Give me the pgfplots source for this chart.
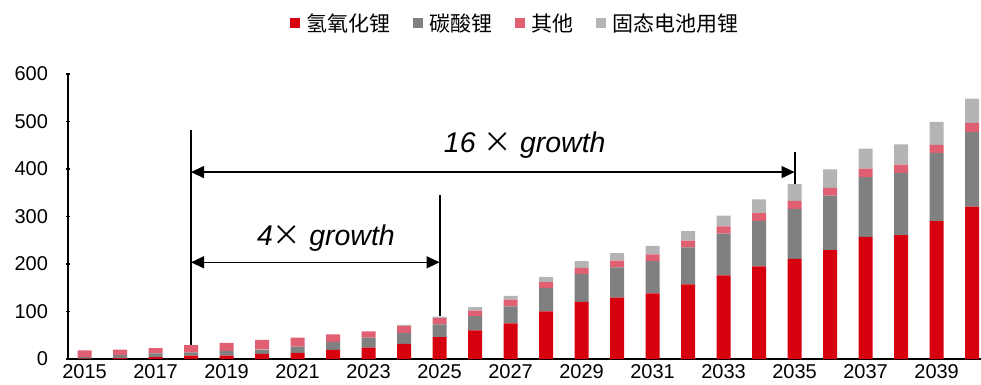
\documentclass[border=0pt]{standalone}
\usepackage{fontspec}
\setmainfont{Liberation Sans}
\newfontfamily\cjk{Noto Sans CJK SC}
\usepackage{pgfplots}
\usepackage{pgfplotstable}
\pgfplotsset{compat=1.18}
\usetikzlibrary{arrows.meta}
\definecolor{cRed}{RGB}{215,0,15}
\definecolor{cGray}{RGB}{128,128,128}
\definecolor{cPink}{RGB}{225,95,115}
\definecolor{cLight}{RGB}{180,180,180}

\pgfplotstableread{
year red gray pink solid
2015 1 3 14 0
2016 2 6 12 0
2017 4 8 11 0
2018 7 7 15 0
2019 7 10 17 0
2020 11 9 20 0
2021 13 13 19 0
2022 19 17 16 0
2023 24 21 13 0
2024 32 23 14 3
2025 46 27 13 3
2026 60 30 12 7
2027 75 36 14 8
2028 100 49 13 11
2029 120 59 13 14
2030 129 64 14 16
2031 138 68 14 18
2032 157 78 14 20
2033 176 88 15 23
2034 195 96 16 29
2035 211 105 17 35
2036 229 115 16 39
2037 257 126 18 42
2038 261 131 17 43
2039 290 144 17 48
2040 321 157 19 51
}\datatable

\begin{document}
\begin{tikzpicture}
\useasboundingbox (0,0) rectangle (981bp,385bp);
\begin{axis}[
  at={(68bp,26bp)}, anchor=south west,
  scale only axis, width=913bp, height=285bp,
  ybar stacked, bar width=0.394,
  xmin=2014.535, xmax=2040.25, ymin=0, ymax=600,
  axis x line=bottom, axis y line=left,
  axis line style={line width=1.5bp, -},
  xtick={2015,2017,...,2039}, ytick={0,100,...,600},
  x tick label style={/pgf/number format/1000 sep={}},
  xtick style={draw=none},
  ytick style={line width=1.2bp, black},
  major tick length=5bp,
  /pgf/number format/assume math mode=true,
  tick label style={font=\fontsize{20bp}{24bp}\selectfont},
  yticklabel style={xshift=-14bp},
  clip=false,
  legend columns=4,
  legend style={at={(0.49,1.179)}, anchor=center, draw=none, fill=none,
    font=\cjk\fontsize{21bp}{24bp}\selectfont,
    /tikz/every even column/.append style={column sep=20bp}},
  legend image code/.code={\fill[#1] (0bp,-5bp) rectangle (10bp,5bp); \path (15bp,0bp);},
]
\addplot[fill=cRed, draw=none] table[x=year, y=red] {\datatable};
\addplot[fill=cGray, draw=none] table[x=year, y=gray] {\datatable};
\addplot[fill=cPink, draw=none] table[x=year, y=pink] {\datatable};
\addplot[fill=cLight, draw=none] table[x=year, y=solid] {\datatable};
\legend{氢氧化锂, 碳酸锂, 其他, 固态电池用锂}

\draw[line width=2bp] (axis cs:2018,30) -- (axis cs:2018,483);
\draw[line width=2bp] (axis cs:2025,90) -- (axis cs:2025,345);
\draw[line width=2bp] (axis cs:2035,369) -- (axis cs:2035,436);
\draw[{Triangle[length=13bp,width=12bp]}-{Triangle[length=13bp,width=12bp]}, line width=1.3bp]
  (axis cs:2018,393.5) -- (axis cs:2035,393.5);
\draw[{Triangle[length=13bp,width=12bp]}-{Triangle[length=13bp,width=12bp]}, line width=1.3bp]
  (axis cs:2018,203.6) -- (axis cs:2025,203.6);
\node[font=\fontsize{28.5bp}{32bp}\selectfont\itshape] at (axis cs:2027.4,450) {16 {\cjk\upshape ×} growth};
\node[font=\fontsize{28.5bp}{32bp}\selectfont\itshape] at (axis cs:2021.8,254) {4{\cjk\upshape ×} growth};
\end{axis}
\end{tikzpicture}
\end{document}
